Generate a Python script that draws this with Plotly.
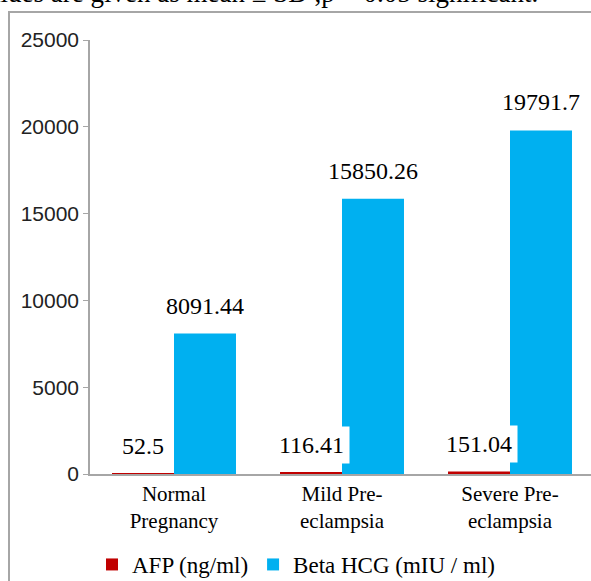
import plotly.graph_objects as go

categories = ["Normal<br>Pregnancy", "Mild Pre-<br>eclampsia", "Severe Pre-<br>eclampsia"]
afp = [52.5, 116.41, 151.04]
hcg = [8091.44, 15850.26, 19791.7]
afp_labels = ["52.5", "116.41", "151.04"]
hcg_labels = ["8091.44", "15850.26", "19791.7"]
tick_vals = [0, 5000, 10000, 15000, 20000, 25000]
tick_text = ["0", "5000", "10000", "15000", "20000", "25000"]
caption = "Values are given as mean ± SD ,p &lt; 0.05 significant."

W, H = 591, 581
L, R, T, B = 90, 0, 40, 107
PW = W - L - R
PH = H - T - B

SERIF = "Liberation Serif, Times New Roman, serif"
RED = "#c00000"
BLUE = "#00b0f0"
GRAY = "#a6a6a6"

fig = go.Figure()
fig.add_bar(x=categories, y=afp, name="AFP (ng/ml)", marker_color=RED, marker_line_width=0)
fig.add_bar(x=categories, y=hcg, name="Beta HCG (mIU / ml)", marker_color=BLUE, marker_line_width=0)

annotations = []
for c, v, t in zip(categories, hcg, hcg_labels):
    annotations.append(dict(x=c, y=v, text=t, xref="x", yref="y", showarrow=False,
                            xanchor="center", yanchor="bottom", yshift=13, xshift=31,
                            font=dict(family=SERIF, size=24, color="#000")))
for c, v, t in zip(categories, afp, afp_labels):
    annotations.append(dict(x=c, y=v, text=t, xref="x", yref="y", showarrow=False,
                            xanchor="center", yanchor="bottom", yshift=8, xshift=-31,
                            bgcolor="white", borderpad=5,
                            font=dict(family=SERIF, size=24, color="#000")))

def px2x(p):
    return (p - L) / PW

def py2y(p):
    return (H - B - p) / PH

annotations.append(dict(text=caption, xref="paper", yref="paper", x=px2x(540), y=py2y(10),
                        xanchor="right", yanchor="bottom", showarrow=False,
                        font=dict(family=SERIF, size=27, color="#000")))

fig.update_layout(
    width=W, height=H,
    margin=dict(l=L, r=R, t=T, b=B, pad=0, autoexpand=False),
    paper_bgcolor="white", plot_bgcolor="white",
    barmode="group", bargap=0.262, bargroupgap=0,
    showlegend=True,
    legend=dict(orientation="h", x=px2x(92), y=py2y(543), xanchor="left", yanchor="top",
                font=dict(family=SERIF, size=23, color="#000"),
                bgcolor="rgba(0,0,0,0)"),
    annotations=annotations,
    shapes=[dict(type="rect", xref="paper", yref="paper", x0=px2x(9), y0=py2y(640),
                 x1=px2x(640), y1=py2y(12), line=dict(color=GRAY, width=2), layer="below")],
    xaxis=dict(range=[-0.5, -0.5 + PW / 168.0], showline=True, linecolor=GRAY, linewidth=1.5,
               ticks="", showgrid=False, tickfont=dict(family=SERIF, size=21, color="#000"),
               zeroline=False, ticklabelstandoff=0),
    yaxis=dict(range=[0, 25000], tickvals=tick_vals, ticktext=tick_text, showline=True,
               linecolor=GRAY, linewidth=1.5,
               ticks="outside", ticklen=5, tickcolor=GRAY, showgrid=False, zeroline=False,
               tickfont=dict(family="Liberation Sans", size=21, color="#222")),
)

fig.write_html("out.html")
